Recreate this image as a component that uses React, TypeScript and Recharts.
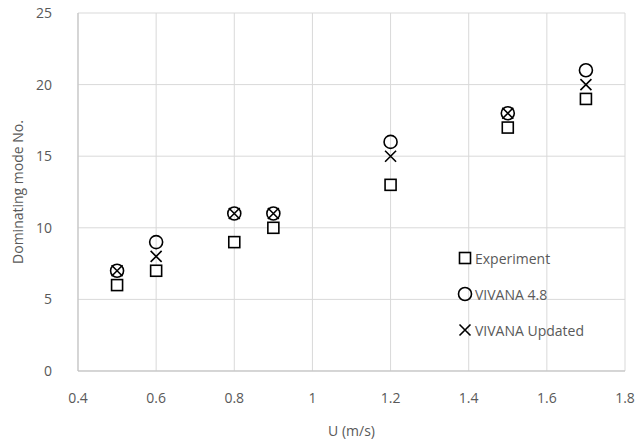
import {
  CartesianGrid,
  Scatter,
  ScatterChart,
  XAxis,
  YAxis,
} from "recharts";

const speeds = [0.5, 0.6, 0.8, 0.9, 1.2, 1.5, 1.7];
const experiment = [6, 7, 9, 10, 13, 17, 19];
const vivana48 = [7, 9, 11, 11, 16, 18, 21];
const vivanaUpdated = [7, 8, 11, 11, 15, 18, 20];
const xTicks = [0.4, 0.6, 0.8, 1, 1.2, 1.4, 1.6, 1.8];
const yTicks = [0, 5, 10, 15, 20, 25];

const toPoints = (ys: number[]) => speeds.map((u, i) => ({ u, mode: ys[i] }));

const FONT = "'Open Sans', 'Liberation Sans', sans-serif";
const TEXT = "#595959";

function Square(props: any) {
  const { cx, cy } = props;
  return <rect x={cx - 5.5} y={cy - 5.5} width={11} height={11} fill="#fff" stroke="#000" strokeWidth={1.6} />;
}

function Ring(props: any) {
  const { cx, cy } = props;
  return <circle cx={cx} cy={cy} r={6.5} fill="none" stroke="#000" strokeWidth={1.6} />;
}

function Cross(props: any) {
  const { cx, cy } = props;
  const d = 5.5;
  return (
    <path
      d={`M${cx - d},${cy - d}L${cx + d},${cy + d}M${cx - d},${cy + d}L${cx + d},${cy - d}`}
      stroke="#000"
      strokeWidth={1.6}
      fill="none"
    />
  );
}

const legendItems = [
  { name: "Experiment", Shape: Square },
  { name: "VIVANA 4.8", Shape: Ring },
  { name: "VIVANA Updated", Shape: Cross },
];

// legend sits inside the plot area, so it's drawn as an overlay
function LegendBox() {
  return (
    <div
      style={{
        position: "absolute",
        left: 457,
        top: 240,
        fontFamily: FONT,
        fontSize: 14,
        color: TEXT,
      }}
    >
      {legendItems.map(({ name, Shape }) => (
        <div key={name} style={{ display: "flex", alignItems: "center", height: 36 }}>
          <svg width={16} height={16} style={{ marginRight: 2 }}>
            <Shape cx={8} cy={8} />
          </svg>
          <span>{name}</span>
        </div>
      ))}
    </div>
  );
}

export default function App() {
  return (
    <div style={{ position: "absolute", left: 0, top: 0, width: 640, height: 447, background: "#fff" }}>
      <ScatterChart width={640} height={447} margin={{ top: 13, right: 15, bottom: 16, left: 0 }}>
        <CartesianGrid stroke="#d9d9d9" />
        <XAxis
          type="number"
          dataKey="u"
          domain={[0.4, 1.8]}
          ticks={xTicks}
          tickFormatter={(v: number) => String(Number(v.toFixed(1)))}
          height={60}
          stroke="#bfbfbf"
          tickLine={false}
          tick={{ fill: TEXT, fontSize: 14, fontFamily: FONT }}
          tickMargin={16}
          label={{ value: "U (m/s)", position: "insideBottom", offset: -5, fill: TEXT, fontSize: 14, fontFamily: FONT }}
        />
        <YAxis
          type="number"
          dataKey="mode"
          domain={[0, 25]}
          ticks={yTicks}
          width={78}
          stroke="#bfbfbf"
          tickLine={false}
          tick={{ fill: TEXT, fontSize: 14, fontFamily: FONT }}
          tickMargin={20}
          label={{
            value: "Dominating mode No.",
            angle: -90,
            position: "insideLeft",
            offset: 18,
            style: { textAnchor: "middle" },
            fill: TEXT,
            fontSize: 14,
            fontFamily: FONT,
          }}
        />
        <Scatter name="Experiment" data={toPoints(experiment)} shape={<Square />} isAnimationActive={false} />
        <Scatter name="VIVANA 4.8" data={toPoints(vivana48)} shape={<Ring />} isAnimationActive={false} />
        <Scatter name="VIVANA Updated" data={toPoints(vivanaUpdated)} shape={<Cross />} isAnimationActive={false} />
      </ScatterChart>
      <LegendBox />
    </div>
  );
}
